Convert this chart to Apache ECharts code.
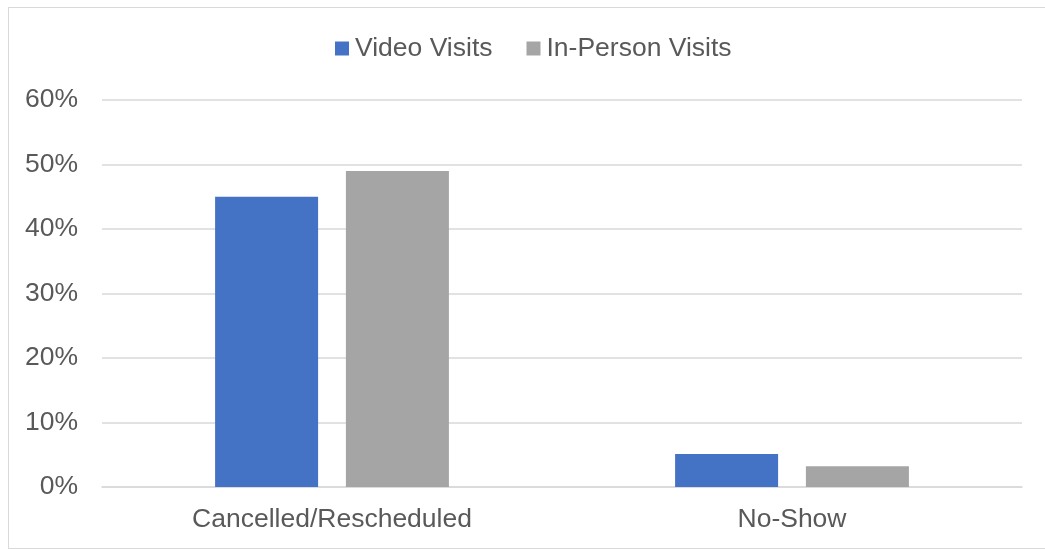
<!DOCTYPE html>
<html>
<head>
<meta charset="utf-8">
<script src="https://cdn.jsdelivr.net/npm/echarts@6/dist/echarts.min.js"></script>
<style>
html,body{margin:0;padding:0;background:#fff;overflow:hidden;}
#frame{position:absolute;left:8px;top:7px;width:1037px;height:542px;border:1.5px solid #d9d9d9;border-right:none;box-sizing:border-box;}
#chart{position:absolute;left:0;top:0;width:1045px;height:549px;}
</style>
</head>
<body>
<div id="frame"></div>
<div id="chart"></div>
<script>
const categories = ['Cancelled/Rescheduled', 'No-Show'];
const seriesNames = ['Video Visits', 'In-Person Visits'];
const videoValues = [45, 5.1];
const inPersonValues = [49, 3.2];
const yTicks = [0, 10, 20, 30, 40, 50, 60];

const chart = echarts.init(document.getElementById('chart'));
const font = 'Liberation Sans, Arial, sans-serif';
chart.setOption({
  animation: false,
  legend: {
    top: 30,
    left: 330,
    itemWidth: 14,
    itemHeight: 14,
    itemGap: 34,
    icon: 'rect',
    textStyle: {fontFamily: font, fontSize: 26.5, color: '#595959', padding: [0, 0, 0, 1]},
    data: seriesNames
  },
  grid: {left: 102, right: 23, top: 100, bottom: 62, containLabel: false},
  xAxis: {
    type: 'category',
    data: categories,
    axisLine: {lineStyle: {color: '#d9d9d9', width: 1.5}},
    axisTick: {show: false},
    axisLabel: {fontFamily: font, fontSize: 26.5, color: '#595959', margin: 19}
  },
  yAxis: {
    type: 'value',
    min: yTicks[0],
    max: yTicks[yTicks.length - 1],
    interval: 10,
    axisLine: {show: false},
    axisTick: {show: false},
    splitLine: {lineStyle: {color: '#d9d9d9', width: 1.5}},
    axisLabel: {fontFamily: font, fontSize: 26.5, color: '#595959', margin: 24, formatter: v => v + '%'}
  },
  series: [
    {name: seriesNames[0], type: 'bar', data: videoValues, barWidth: 103, barGap: '27%', itemStyle: {color: '#4472c4'}},
    {name: seriesNames[1], type: 'bar', data: inPersonValues, barWidth: 103, barGap: '27%', itemStyle: {color: '#a5a5a5'}}
  ]
});
</script>
</body>
</html>
